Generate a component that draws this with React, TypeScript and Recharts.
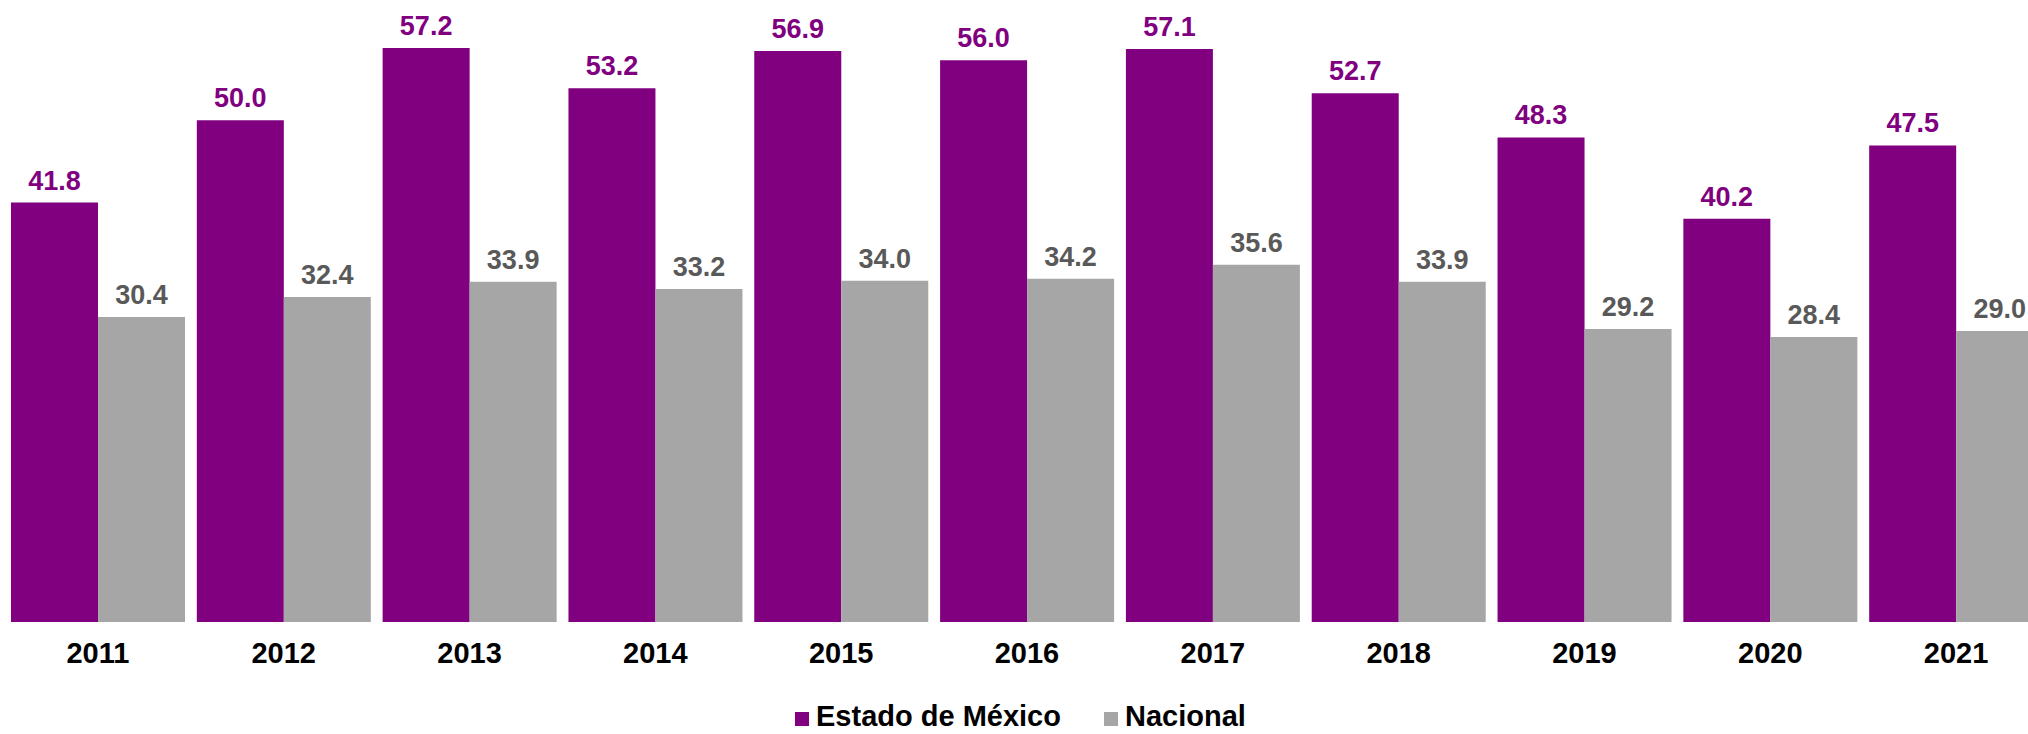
import { Bar, BarChart, LabelList, Legend, XAxis, YAxis } from "recharts"

const years = ["2011", "2012", "2013", "2014", "2015", "2016", "2017", "2018", "2019", "2020", "2021"]
const edomex = [41.8, 50.0, 57.2, 53.2, 56.9, 56.0, 57.1, 52.7, 48.3, 40.2, 47.5]
const nacional = [30.4, 32.4, 33.9, 33.2, 34.0, 34.2, 35.6, 33.9, 29.2, 28.4, 29.0]

const data = years.map((year, i) => ({ year, edomex: edomex[i], nacional: nacional[i] }))

const PURPLE = "#800080"
const GRAY = "#A6A6A6"
const FONT = "'Liberation Sans', Arial, sans-serif"

function LegendContent() {
  const item = (color: string, label: string, gap: number) => (
    <div style={{ display: "flex", alignItems: "flex-start", marginRight: gap }}>
      <div style={{ width: 14, height: 14, background: color, marginTop: 7, marginRight: 7 }} />
      <span style={{ fontFamily: FONT, fontWeight: "bold", fontSize: 29, lineHeight: "22px", color: "#000" }}>{label}</span>
    </div>
  )
  return (
    <div style={{ display: "flex" }}>
      {item(PURPLE, "Estado de México", 43)}
      {item(GRAY, "Nacional", 0)}
    </div>
  )
}

export default function App() {
  return (
    <div style={{ position: "absolute", left: 0, top: 0, width: 2028, height: 734, overflow: "hidden", background: "#fff" }}>
      <BarChart
        width={2049}
        height={734}
        data={data}
        margin={{ top: 20, right: 0, left: 5, bottom: 0 }}
        barCategoryGap={6}
        barGap={0}
      >
        <XAxis
          dataKey="year"
          height={112}
          axisLine={false}
          tickLine={false}
          tickSize={0}
          tickMargin={20}
          tick={{ fill: "#000", fontSize: 29, fontWeight: "bold", fontFamily: FONT }}
          interval={0}
        />
        <YAxis hide type="number" domain={[0, 60]} />
        {/* middle alignment keeps the legend from taking plot space; placed by hand */}
        <Legend
          verticalAlign="middle"
          align="center"
          layout="horizontal"
          content={<LegendContent />}
          wrapperStyle={{ top: 705, left: 795, width: 700, height: 22 }}
        />
        <Bar dataKey="edomex" name="Estado de México" fill={PURPLE} isAnimationActive={false}>
          <LabelList
            dataKey="edomex"
            position="top"
            offset={13}
            formatter={(v: any) => Number(v).toFixed(1)}
            style={{ fill: PURPLE, fontSize: 27, fontWeight: "bold", fontFamily: FONT }}
          />
        </Bar>
        <Bar dataKey="nacional" name="Nacional" fill={GRAY} isAnimationActive={false}>
          <LabelList
            dataKey="nacional"
            position="top"
            offset={13}
            formatter={(v: any) => Number(v).toFixed(1)}
            style={{ fill: "#595959", fontSize: 27, fontWeight: "bold", fontFamily: FONT }}
          />
        </Bar>
      </BarChart>
    </div>
  )
}
